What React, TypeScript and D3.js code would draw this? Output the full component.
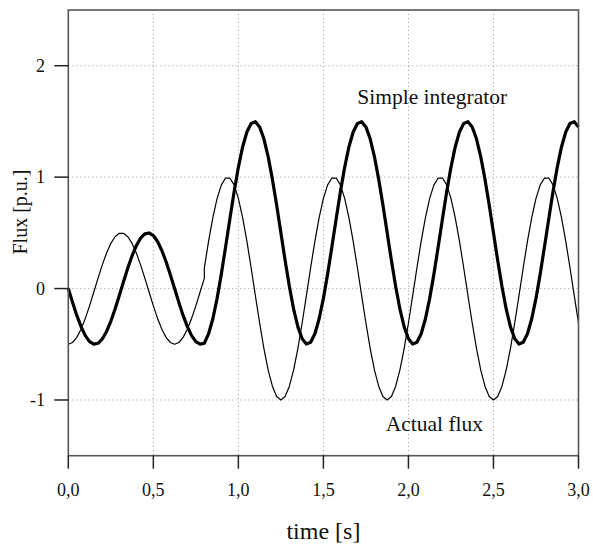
import React from "react";
import * as d3 from "d3";

// time grid: 0 .. 3 s, step 0.025 s
const timeStep = 0.025;
const timeGrid: number[] = d3.range(0, 121).map((k) => +(k * timeStep).toFixed(3));

// Actual flux (thin line), values read on the time grid
const actualFlux: number[] = [
  -0.5, -0.484, -0.438, -0.365, -0.268, -0.155, -0.031, 0.094, 0.213, 0.319, 0.405, 0.465, 0.496,
  0.496, 0.465, 0.405, 0.319, 0.213, 0.094, -0.031, -0.155, -0.268, -0.365, -0.438, -0.484,
  -0.5, -0.484, -0.438, -0.365, -0.268, -0.155, -0.031,
  0.187, 0.426, 0.637, 0.809, 0.93, 0.992, 0.992, 0.93, 0.809, 0.637, 0.426, 0.187, -0.063, -0.309,
  -0.536, -0.729, -0.876, -0.969,
  -1, -0.969, -0.876, -0.729, -0.536, -0.309, -0.063, 0.187, 0.426, 0.637, 0.809, 0.93, 0.992,
  0.992, 0.93, 0.809, 0.637, 0.426, 0.187, -0.063, -0.309, -0.536, -0.729, -0.876, -0.969,
  -1, -0.969, -0.876, -0.729, -0.536, -0.309, -0.063, 0.187, 0.426, 0.637, 0.809, 0.93, 0.992,
  0.992, 0.93, 0.809, 0.637, 0.426, 0.187, -0.063, -0.309, -0.536, -0.729, -0.876, -0.969,
  -1, -0.969, -0.876, -0.729, -0.536, -0.309, -0.063, 0.187, 0.426, 0.637, 0.809, 0.93, 0.992,
  0.992, 0.93, 0.809, 0.637, 0.426, 0.187, -0.063, -0.309,
];
// step of the actual flux at t = 0.8 s (value just before the step)
const fluxStepTime = 0.8;
const fluxBeforeStep = 0.094;

// Simple integrator (thick line)
const integratorFlux: number[] = [
  0, -0.124, -0.241, -0.342, -0.422, -0.476, -0.499, -0.491, -0.452, -0.385, -0.294, -0.184, -0.063,
  0.063, 0.184, 0.294, 0.385, 0.452, 0.491, 0.499, 0.476, 0.422, 0.342, 0.241, 0.124,
  0, -0.124, -0.241, -0.342, -0.422, -0.476, -0.499, -0.491,
  -0.405, -0.271, -0.088, 0.132, 0.375, 0.625, 0.868, 1.088, 1.271, 1.405, 1.482, 1.498, 1.451,
  1.344, 1.185, 0.982, 0.749,
  0.5, 0.251, 0.018, -0.185, -0.344, -0.451, -0.498, -0.482, -0.405, -0.271, -0.088, 0.132, 0.375,
  0.625, 0.868, 1.088, 1.271, 1.405, 1.482, 1.498, 1.451, 1.344, 1.185, 0.982, 0.749,
  0.5, 0.251, 0.018, -0.185, -0.344, -0.451, -0.498, -0.482, -0.405, -0.271, -0.088, 0.132, 0.375,
  0.625, 0.868, 1.088, 1.271, 1.405, 1.482, 1.498, 1.451, 1.344, 1.185, 0.982, 0.749,
  0.5, 0.251, 0.018, -0.185, -0.344, -0.451, -0.498, -0.482, -0.405, -0.271, -0.088, 0.132, 0.375,
  0.625, 0.868, 1.088, 1.271, 1.405, 1.482, 1.498, 1.451,
];

const xTicks = [0, 0.5, 1.0, 1.5, 2.0, 2.5, 3.0];
const xTickLabels = ["0,0", "0,5", "1,0", "1,5", "2,0", "2,5", "3,0"];
const yTicks = [-1, 0, 1, 2];
const yTickLabels = ["-1", "0", "1", "2"];

const xLabel = "time [s]";
const yLabel = "Flux [p.u.]";
const integratorLabel = { text: "Simple integrator", t: 2.14, v: 1.66 };
const actualLabel = { text: "Actual flux", t: 2.153, v: -1.28 };

const W = 593;
const H = 544;
const M = { left: 68.3, right: 14.5, top: 10, bottom: 88.3 };
const FONT = "'Liberation Serif', 'Times New Roman', serif";

export default function App() {
  const x = d3.scaleLinear().domain([0, 3]).range([M.left, W - M.right]);
  const y = d3.scaleLinear().domain([-1.5, 2.5]).range([H - M.bottom, M.top]);

  const line = d3
    .line<[number, number]>()
    .x((d) => x(d[0]))
    .y((d) => y(d[1]));

  const actualPts: [number, number][] = [];
  timeGrid.forEach((t, i) => {
    if (Math.abs(t - fluxStepTime) < 1e-9) actualPts.push([t, fluxBeforeStep]);
    actualPts.push([t, actualFlux[i]]);
  });
  const integratorPts: [number, number][] = timeGrid.map((t, i) => [t, integratorFlux[i]]);

  const x0 = x(0), x1 = x(3), yTop = y(2.5), yBot = y(-1.5);

  return (
    <svg width={W} height={H} style={{ position: "absolute", left: 0, top: 0 }}>
      <rect x={0} y={0} width={W} height={H} fill="#fff" />
      {/* grid */}
      {xTicks.slice(1, -1).map((t) => (
        <line key={"gx" + t} x1={x(t)} x2={x(t)} y1={yTop} y2={yBot} stroke="#9a9a9a" strokeWidth={1} strokeDasharray="1,3" />
      ))}
      {yTicks.map((v) => (
        <line key={"gy" + v} x1={x0} x2={x1} y1={y(v)} y2={y(v)} stroke="#9a9a9a" strokeWidth={1} strokeDasharray="1,3" />
      ))}
      {/* data */}
      <path d={line(actualPts) || ""} fill="none" stroke="#000" strokeWidth={1.2} strokeLinejoin="round" />
      <path d={line(integratorPts) || ""} fill="none" stroke="#000" strokeWidth={3.2} strokeLinejoin="round" />
      {/* frame */}
      <rect x={x0} y={yTop} width={x1 - x0} height={yBot - yTop} fill="none" stroke="#555" strokeWidth={1.6} />
      {/* ticks */}
      {xTicks.map((t, i) => (
        <g key={"xt" + t}>
          <line x1={x(t)} x2={x(t)} y1={yBot} y2={yBot + 13} stroke="#222" strokeWidth={1.5} />
          <text x={x(t)} y={495.5} textAnchor="middle" fontFamily={FONT} fontSize={18} fill="#111">
            {xTickLabels[i]}
          </text>
        </g>
      ))}
      {yTicks.map((v, i) => (
        <g key={"yt" + v}>
          <line x1={x0 - 14} x2={x0} y1={y(v)} y2={y(v)} stroke="#222" strokeWidth={1.5} />
          <text x={45} y={y(v) + 6} textAnchor="end" fontFamily={FONT} fontSize={18} fill="#111">
            {yTickLabels[i]}
          </text>
        </g>
      ))}
      {/* axis titles */}
      <text x={(x0 + x1) / 2} y={539} textAnchor="middle" fontFamily={FONT} fontSize={24} fill="#111">
        {xLabel}
      </text>
      <text transform={`translate(27,${212}) rotate(-90)`} textAnchor="middle" fontFamily={FONT} fontSize={20} fill="#111">
        {yLabel}
      </text>
      {/* annotations */}
      <text x={x(integratorLabel.t)} y={y(integratorLabel.v)} textAnchor="middle" fontFamily={FONT} fontSize={21.5} fill="#111">
        {integratorLabel.text}
      </text>
      <text x={x(actualLabel.t)} y={y(actualLabel.v)} textAnchor="middle" fontFamily={FONT} fontSize={21.5} fill="#111">
        {actualLabel.text}
      </text>
    </svg>
  );
}
